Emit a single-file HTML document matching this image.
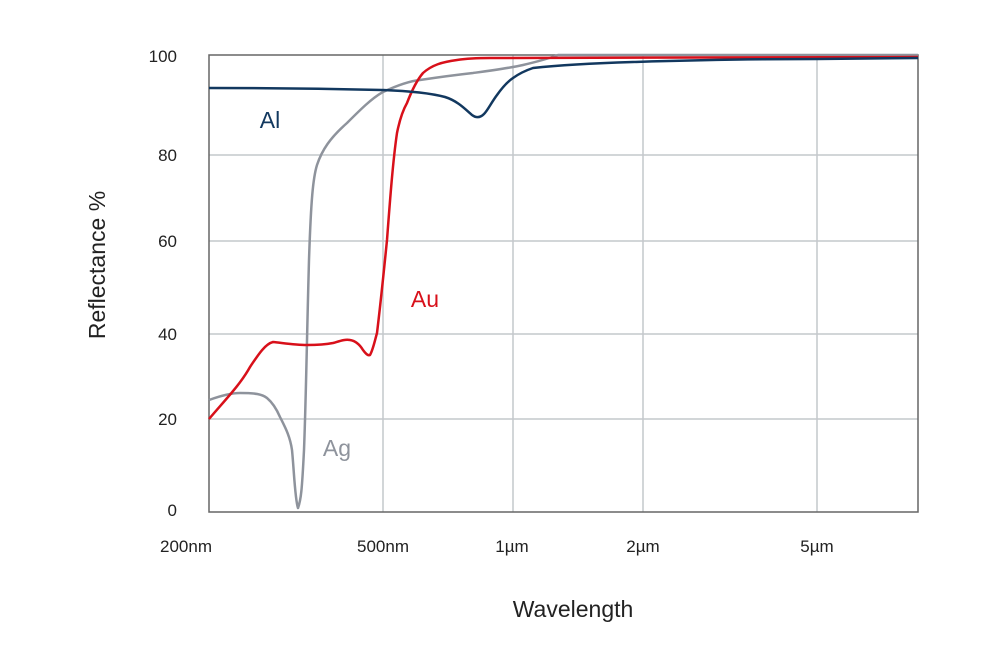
<!DOCTYPE html>
<html><head><meta charset="utf-8"><style>
body{margin:0;background:#fff}
svg text{font-family:"Liberation Sans","DejaVu Sans",sans-serif}
</style></head><body>
<svg width="1000" height="648" viewBox="0 0 1000 648" xmlns="http://www.w3.org/2000/svg">
<g stroke="#c4c8cc" stroke-width="1.5" fill="none">
<line x1="209" y1="155" x2="918" y2="155"/>
<line x1="209" y1="241" x2="918" y2="241"/>
<line x1="209" y1="334" x2="918" y2="334"/>
<line x1="209" y1="419" x2="918" y2="419"/>
<line x1="383" y1="55" x2="383" y2="512"/>
<line x1="513" y1="55" x2="513" y2="512"/>
<line x1="643" y1="55" x2="643" y2="512"/>
<line x1="817" y1="55" x2="817" y2="512"/>
</g>
<rect x="209" y="55" width="709" height="457" fill="none" stroke="#666" stroke-width="1.5"/>
<g fill="#222" font-size="17" text-anchor="end">
<text x="177" y="62">100</text>
<text x="177" y="161">80</text>
<text x="177" y="247">60</text>
<text x="177" y="340">40</text>
<text x="177" y="425">20</text>
<text x="177" y="516">0</text>
</g>
<g fill="#222" font-size="17" text-anchor="middle">
<text x="186" y="552">200nm</text>
<text x="383" y="552">500nm</text>
<text x="512" y="552">1µm</text>
<text x="643" y="552">2µm</text>
<text x="817" y="552">5µm</text>
</g>
<text x="573" y="617" font-size="23" fill="#222" text-anchor="middle">Wavelength</text>
<text transform="translate(105,265) rotate(-90)" font-size="23" fill="#222" text-anchor="middle">Reflectance %</text>
<path fill="none" stroke="#8e939c" stroke-width="2.5" stroke-linejoin="round" d="M209,400 C220,396 230,393 240,393 C255,393 262,394 267,398 C273,403 277,410 280,417 C285,427 290,436 292,450 C294,470 295,500 298,508 C301,500 302,490 304,450 C306,400 307,330 309,260 C311,200 313,178 317,165 C322,150 330,138 347,123 C360,110 372,98 383,92 C398,85 410,81 420,80 C440,77 455,75 473,73 C495,70 510,68 523,65 C540,61 550,58 558,55 L918,55"/>
<path fill="none" stroke="#d8101a" stroke-width="2.5" stroke-linejoin="round" d="M209,419 C225,400 240,385 250,367 C258,355 265,344 273,342 C283,343 295,345 307,345 C318,345 328,344 333,343 C340,341 345,339 350,340 C356,341 360,345 363,350 C366,354 368,356 370,355 C373,350 375,340 377,333 C381,300 384,270 387,240 C390,200 393,160 397,133 C400,118 403,110 407,103 C412,90 417,80 423,73 C432,65 442,62 457,60 C470,58 480,58 490,58 L918,57"/>
<path fill="none" stroke="#12385f" stroke-width="2.5" stroke-linejoin="round" d="M209,88 C280,88 340,89 383,90 C410,91 430,93 445,97 C458,101 466,110 472,115 C476,118 480,118 484,114 C488,110 491,103 497,95 C502,88 507,82 513,78 C520,73 527,70 533,68 C560,65 600,63 633,62 C700,60 760,59 817,59 L918,58"/>
<text x="270" y="128" font-size="23" fill="#12385f" text-anchor="middle">Al</text>
<text x="425" y="307" font-size="23" fill="#d8101a" text-anchor="middle">Au</text>
<text x="337" y="456" font-size="23" fill="#8e939c" text-anchor="middle">Ag</text>
</svg>
</body></html>
